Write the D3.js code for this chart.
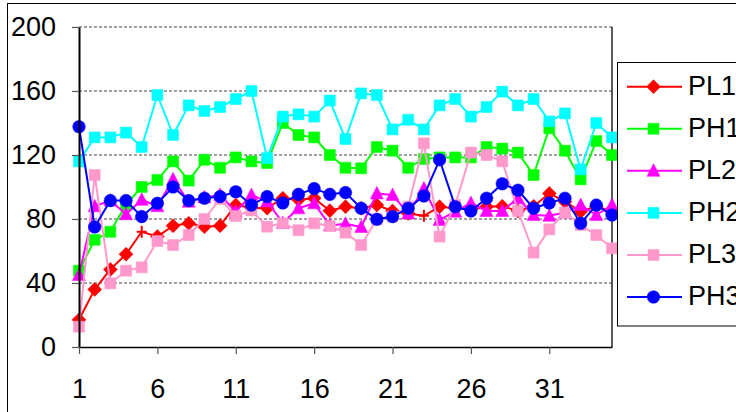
<!DOCTYPE html>
<html>
<head>
<meta charset="utf-8">
<script src="https://cdn.jsdelivr.net/npm/d3@7/dist/d3.min.js"></script>
<style>
  html, body { margin: 0; padding: 0; background: #fff; }
  svg { display: block; }
  text { font-family: "Liberation Sans", Arial, sans-serif; fill: #000; }
</style>
</head>
<body>
<svg id="chart" width="736" height="412"></svg>
<script>
// Categories (sample number) and axis ticks
const categories = [1,2,3,4,5,6,7,8,9,10,11,12,13,14,15,16,17,18,19,20,21,22,23,24,25,26,27,28,29,30,31,32,33,34,35];
const xTickLabels = [1, 6, 11, 16, 21, 26, 31];
const yTickLabels = [0, 40, 80, 120, 160, 200];

// Series values
const PL1 = [17, 36, 48.5, 58, 72, 69, 75.8, 77.3, 75.2, 75.8, 88.7, 87, 86.7, 93, 92, 93, 85.2, 87.7, 86.7, 88.7, 85, 83.5, 82, 87.7, 86.7, 86, 87.7, 88, 85, 88, 96, 90.8, 84.6, 88, 84.6];
const PH1 = [47.7, 67, 72, 89, 100, 104.4, 116, 104, 117, 112, 118.5, 116, 115, 140, 132.5, 131, 120, 112, 111.7, 125, 122.7, 112, 117.5, 118.5, 118.5, 118.5, 125, 124, 121.5, 107.5, 136.7, 122.7, 104.8, 128.7, 120];
const PL2 = [45, 88, 91.5, 83, 92, 88, 104.8, 90.8, 93.5, 95, 84.6, 95, 91, 77.5, 86.7, 89.8, 76, 77, 75, 96, 95, 83.5, 99, 79.4, 84.6, 90, 85, 85, 93, 82.5, 82, 84, 88.7, 82.5, 88.7];
const PH2 = [116, 131, 131, 134, 125, 157.5, 132.5, 151, 147.5, 150, 155, 160, 118, 144, 145.4, 144, 154, 130, 158.5, 157.5, 136, 142, 136, 151, 155, 144, 150, 159.6, 151, 155, 141, 146, 111, 140, 131];
const PL3 = [12.7, 107.5, 39.8, 47.7, 49.8, 66.2, 63.7, 70, 80, 92.5, 81.9, 85.3, 75.2, 77.3, 73, 77.3, 75.6, 71.5, 63.7, 79.8, 81.5, 87.7, 127.3, 69, 88.7, 121.5, 120, 116, 85, 59, 73.5, 84, 76.2, 70, 61.7];
const PH3 = [137.7, 75, 91.5, 91.5, 81.5, 89.8, 100, 91.5, 93, 94, 97, 88.7, 94, 90, 95.4, 99, 95.4, 96.5, 86.7, 79.8, 81.5, 86.7, 94.4, 117, 87.7, 85, 93, 102, 98, 86.7, 90, 93, 77.3, 88.7, 82.5];

// Samples of PL1 drawn with a plus marker instead of a diamond
const PL1_plusAt = [5, 23];

const seriesNames = ["PL1", "PH1", "PL2", "PH2", "PL3", "PH3"];
const seriesValues = [PL1, PH1, PL2, PH2, PL3, PH3];
const seriesColors = ["#FF0000", "#00FF00", "#FF00FF", "#00FFFF", "#FF99CC", "#0000FF"];
const seriesMarkers = ["diamond", "square", "triangle", "square", "square", "circle"];

const svg = d3.select("#chart");
const plot = { left: 79, right: 612, top: 27, bottom: 347 };

const x = d3.scaleLinear().domain([1, 35]).range([plot.left, plot.right]);
const y = d3.scaleLinear().domain([0, 200]).range([plot.bottom, plot.top]);

// Outer chart border
svg.append("rect")
  .attr("x", 7.5).attr("y", 3.5).attr("width", 800).attr("height", 500)
  .attr("fill", "none").attr("stroke", "#000").attr("stroke-width", 1);

// Dashed gridlines
svg.append("g")
  .selectAll("line")
  .data(yTickLabels.filter(v => v > 0))
  .join("line")
  .attr("x1", plot.left).attr("x2", plot.right)
  .attr("y1", d => y(d)).attr("y2", d => y(d))
  .attr("stroke", "#444").attr("stroke-width", 1.2)
  .attr("stroke-dasharray", "3,2");

// Right border of plot area
svg.append("line")
  .attr("x1", plot.right).attr("x2", plot.right)
  .attr("y1", plot.top).attr("y2", plot.bottom)
  .attr("stroke", "#222").attr("stroke-width", 1.5);

// Marker shapes
function markerPath(kind) {
  switch (kind) {
    case "diamond": return "M0,-7L7,0L0,7L-7,0Z";
    case "square": return "M-5.5,-5.5H5.5V5.5H-5.5Z";
    case "triangle": return "M0,-7L6.5,5.5L-6.5,5.5Z";
    case "circle": return d3.symbol(d3.symbolCircle, Math.PI * 6.3 * 6.3)();
    case "plus": return "M-5,0H5M0,-6V6";
  }
}

const line = d3.line()
  .x((d, i) => x(categories[i]))
  .y(d => y(d));

seriesValues.forEach((vals, si) => {
  const g = svg.append("g");
  const color = seriesColors[si];
  g.append("path")
    .attr("d", line(vals))
    .attr("fill", "none")
    .attr("stroke", color)
    .attr("stroke-width", 2)
    .attr("stroke-linejoin", "round");

  g.selectAll("path.m")
    .data(vals)
    .join("path")
    .attr("class", "m")
    .attr("transform", (d, i) => `translate(${x(categories[i])},${y(d)})`)
    .attr("d", (d, i) => {
      if (si === 0 && PL1_plusAt.includes(categories[i])) return markerPath("plus");
      return markerPath(seriesMarkers[si]);
    })
    .attr("fill", (d, i) => (si === 0 && PL1_plusAt.includes(categories[i])) ? "none" : color)
    .attr("stroke", color)
    .attr("stroke-width", (d, i) => (si === 0 && PL1_plusAt.includes(categories[i])) ? 2 : 0.5);
});

// Y axis
const yAxis = svg.append("g")
  .attr("transform", `translate(${plot.left},0)`)
  .call(d3.axisLeft(y).tickValues(yTickLabels).tickSize(7).tickPadding(16).tickSizeOuter(0));
yAxis.select(".domain").attr("stroke", "#000").attr("stroke-width", 2);
yAxis.selectAll(".tick line").attr("stroke", "#555").attr("stroke-width", 1.2);
yAxis.selectAll(".tick text")
  .attr("font-size", 27)
  .attr("font-family", "Liberation Sans, Arial, sans-serif")
  .attr("fill", "#000");

// X axis
const xAxis = svg.append("g")
  .attr("transform", `translate(0,${plot.bottom})`)
  .call(d3.axisBottom(x).tickValues(xTickLabels).tickSize(7).tickSizeOuter(0));
xAxis.select(".domain").attr("stroke", "#000").attr("stroke-width", 1.5);
xAxis.selectAll(".tick line").attr("stroke", "#555").attr("stroke-width", 1.2);
xAxis.selectAll(".tick text")
  .attr("dy", null)
  .attr("y", 51)
  .attr("font-size", 27)
  .attr("font-family", "Liberation Sans, Arial, sans-serif")
  .attr("fill", "#000");

// Legend
const legend = svg.append("g");
legend.append("rect")
  .attr("x", 617.5).attr("y", 62.5).attr("width", 200).attr("height", 263.5)
  .attr("fill", "#fff").attr("stroke", "#000").attr("stroke-width", 1);

const legendY = d3.scaleLinear().domain([0, 5]).range([86.7, 297]);
seriesNames.forEach((name, si) => {
  const cy = legendY(si);
  const color = seriesColors[si];
  legend.append("line")
    .attr("x1", 627).attr("x2", 682)
    .attr("y1", cy).attr("y2", cy)
    .attr("stroke", color).attr("stroke-width", 2);
  legend.append("path")
    .attr("transform", `translate(653.5,${cy})`)
    .attr("d", markerPath(seriesMarkers[si]))
    .attr("fill", color).attr("stroke", color).attr("stroke-width", 0.5);
  legend.append("text")
    .attr("x", 688).attr("y", cy + 8)
    .attr("font-size", 27)
    .text(name);
});
</script>
</body>
</html>
